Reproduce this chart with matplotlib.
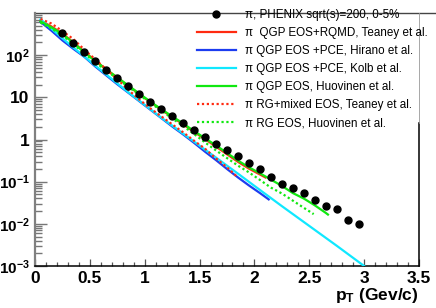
import numpy as np
import matplotlib
matplotlib.use("Agg")
import matplotlib.pyplot as plt
from matplotlib.ticker import FixedLocator, LogLocator, MultipleLocator, NullFormatter

plt.rcParams['font.family'] = ['Liberation Sans', 'DejaVu Sans']
plt.rcParams['mathtext.fontset'] = 'custom'
plt.rcParams['mathtext.bf'] = 'Liberation Sans:bold'
plt.rcParams['mathtext.rm'] = 'Liberation Sans'
plt.rcParams['mathtext.it'] = 'Liberation Sans:italic'

# ---------------- data ----------------
phenix_pt = [0.25, 0.35, 0.45, 0.55, 0.65, 0.75, 0.85, 0.95, 1.05, 1.15, 1.25, 1.35,
             1.45, 1.55, 1.65, 1.75, 1.85, 1.95, 2.05, 2.15, 2.25, 2.35, 2.45, 2.55,
             2.65, 2.75, 2.85, 2.95]
phenix_y = [331, 196, 117, 71.9, 44.1, 29.1, 18.2, 11.9, 7.89, 5.27, 3.54, 2.51,
            1.68, 1.13, 0.80, 0.555, 0.416, 0.274, 0.205, 0.132, 0.0885, 0.0702,
            0.0525, 0.0365, 0.0259, 0.0223, 0.0125, 0.0100]

teaney_qgp_pt = [0.05, 0.15, 0.25, 0.35, 0.45, 0.55, 0.65, 0.75, 0.85, 0.95, 1.05, 1.15,
                 1.25, 1.35, 1.45, 1.55, 1.65, 1.75, 1.85, 1.95, 2.05, 2.10]
teaney_qgp_y = [661, 479, 324, 200, 120, 74.1, 45.7, 29.5, 18.6, 12.0, 7.76, 5.13,
                3.39, 2.29, 1.51, 1.02, 0.676, 0.447, 0.295, 0.204, 0.148, 0.126]

hirano_pt = [0.05, 0.15, 0.25, 0.35, 0.45, 0.55, 0.65, 0.75, 0.85, 0.95, 1.05, 1.15,
             1.25, 1.35, 1.45, 1.55, 1.65, 1.75, 1.85, 1.95, 2.05, 2.13]
hirano_y = [617, 380, 224, 141, 91.2, 53.7, 33.1, 20.4, 12.9, 8.13, 5.13, 3.24,
            2.04, 1.32, 0.832, 0.513, 0.324, 0.200, 0.126, 0.0813, 0.0537, 0.0380]

kolb_pt = [0.05, 0.15, 0.25, 0.35, 0.45, 0.55, 0.65, 0.75, 0.85, 0.95, 1.05, 1.15,
           1.25, 1.35, 1.45, 1.55, 1.65, 1.75, 1.85, 2.0, 2.25, 2.5, 2.75, 3.0]
kolb_y = [708, 427, 251, 151, 93.3, 56.2, 34.7, 21.4, 13.2, 8.32, 5.25, 3.31,
          2.14, 1.38, 0.891, 0.575, 0.372, 0.240, 0.155, 0.0794, 0.0263, 0.00891,
          0.00302, 0.00100]

huov_qgp_pt = [0.05, 0.15, 0.25, 0.35, 0.45, 0.55, 0.65, 0.75, 0.85, 0.95, 1.05, 1.15,
               1.25, 1.35, 1.45, 1.55, 1.65, 1.75, 1.85, 1.95, 2.05, 2.15, 2.25, 2.35,
               2.45, 2.55, 2.65, 2.67]
huov_qgp_y = [631, 457, 316, 195, 117, 72.4, 45.7, 29.5, 19.1, 12.3, 7.94, 5.25,
              3.55, 2.40, 1.58, 1.07, 0.724, 0.479, 0.316, 0.219, 0.158, 0.112,
              0.0794, 0.0537, 0.0398, 0.0275, 0.0182, 0.0166]

teaney_rg_pt = [0.05, 0.15, 0.25, 0.35, 0.45, 0.55, 0.65, 0.75, 0.85, 0.95, 1.05, 1.15,
                1.25, 1.35, 1.45, 1.55, 1.65, 1.75, 1.84]
teaney_rg_y = [724, 562, 372, 240, 135, 79.4, 45.7, 26.9, 15.1, 8.91, 5.50, 3.55,
               2.29, 1.48, 0.933, 0.603, 0.355, 0.219, 0.132]

huov_rg_pt = [0.05, 0.15, 0.25, 0.35, 0.45, 0.55, 0.65, 0.75, 0.85, 0.95, 1.05, 1.15,
              1.25, 1.35, 1.45, 1.55, 1.65, 1.75, 1.85, 1.95, 2.05, 2.15, 2.25, 2.35,
              2.45, 2.54]
huov_rg_y = [589, 427, 295, 182, 110, 67.6, 42.7, 27.5, 17.8, 11.5, 7.41, 4.90,
             3.16, 2.09, 1.35, 0.851, 0.550, 0.363, 0.240, 0.166, 0.110, 0.0724,
             0.0525, 0.0355, 0.0240, 0.0170]

labels = ["\u03c0, PHENIX sqrt(s)=200, 0-5%",
          "\u03c0  QGP EOS+RQMD, Teaney et al.",
          "\u03c0 QGP EOS +PCE, Hirano et al.",
          "\u03c0 QGP EOS +PCE, Kolb et al.",
          "\u03c0 QGP EOS, Huovinen et al.",
          "\u03c0 RG+mixed EOS, Teaney et al.",
          "\u03c0 RG EOS, Huovinen et al."]

x_ticks = [0, 0.5, 1, 1.5, 2, 2.5, 3, 3.5]
x_tick_labels = ["0", "0.5", "1", "1.5", "2", "2.5", "3", "3.5"]
y_ticks = [1e-3, 1e-2, 1e-1, 1, 10, 100]
y_tick_labels = [r"$\mathbf{10^{-3}}$", r"$\mathbf{10^{-2}}$", r"$\mathbf{10^{-1}}$",
                 "1", "10", r"$\mathbf{10^{2}}$"]

# ---------------- figure ----------------
W, H = 436, 308
fig = plt.figure(figsize=(W / 100, H / 100), dpi=100)
ax = fig.add_axes([35 / W, 1 - 266 / H, (419 - 35) / W, (266 - 13) / H])

RED = '#ff2a10'
BLUE = '#1c3cf0'
CYAN = '#10e8ff'
GREEN = '#10e810'

h1, = ax.plot(teaney_qgp_pt, teaney_qgp_y, color=RED, lw=1.6, zorder=3)
h2, = ax.plot(hirano_pt, hirano_y, color=BLUE, lw=1.6, zorder=3)
h3, = ax.plot(kolb_pt, kolb_y, color=CYAN, lw=1.6, zorder=3)
h4, = ax.plot(huov_qgp_pt, huov_qgp_y, color=GREEN, lw=1.6, zorder=3)
h5, = ax.plot(teaney_rg_pt, teaney_rg_y, color=RED, lw=1.6, ls=(0, (1, 1.2)), zorder=3)
h6, = ax.plot(huov_rg_pt, huov_rg_y, color=GREEN, lw=1.6, ls=(0, (1, 1.2)), zorder=3)
h0, = ax.plot(phenix_pt, phenix_y, 'o', color='black', ms=5, zorder=5)

ax.set_yscale('log')
ax.set_xlim(0, 3.5)
ax.set_ylim(1e-3, 1e3)

ax.xaxis.set_major_locator(FixedLocator(x_ticks))
ax.set_xticklabels(x_tick_labels, fontsize=12.5, fontweight='bold')
ax.xaxis.set_minor_locator(MultipleLocator(0.1))
ax.yaxis.set_major_locator(FixedLocator(y_ticks))
ax.set_yticklabels(y_tick_labels, fontsize=11, fontweight='bold')
for t in ax.get_yticklabels():
    if not t.get_text().startswith('$'):
        t.set_fontsize(12.5)
ax.yaxis.set_minor_locator(LogLocator(base=10, subs=np.arange(2, 10)))
ax.yaxis.set_minor_formatter(NullFormatter())

ax.tick_params(axis='x', which='major', direction='in', length=5, width=0.9,
               color='#555555', pad=3.5)
ax.tick_params(axis='x', which='minor', direction='in', length=3, width=0.9,
               color='#555555')
ax.tick_params(axis='y', which='major', direction='in', length=8.5, width=1.0,
               color='#777777', pad=3.8)
ax.tick_params(axis='y', which='minor', direction='in', length=5, width=1.0,
               color='#777777')
ax.tick_params(top=False, right=False, which='both')

ax.spines['top'].set_visible(False)
ax.spines['right'].set_visible(False)
ax.spines['left'].set_color('#808080')
ax.spines['left'].set_linewidth(1.6)
ax.spines['bottom'].set_color('black')
ax.spines['bottom'].set_linewidth(1.1)

# partial frame lines (top left part and right side) like the reference
ax.plot([0, 1.395], [1, 1], transform=ax.transAxes, color='#444444', lw=1.0,
        clip_on=False, zorder=2)
yr = (266 - 123) / (266 - 13)
ax.plot([1, 1], [0, yr], transform=ax.transAxes, color='black', lw=1.1,
        clip_on=False, zorder=2)
ax.plot([1, 1], [yr, 1], transform=ax.transAxes, color='#999999', lw=0.6,
        clip_on=False, zorder=2)

leg = ax.legend([h0, h1, h2, h3, h4, h5, h6], labels, loc='upper left',
                bbox_to_anchor=(197 / W, 1 - 9 / H), bbox_transform=fig.transFigure,
                frameon=False, fontsize=8.4, handlelength=3.3, handletextpad=0.8,
                labelspacing=0.52, borderpad=0, borderaxespad=0, numpoints=1)

fig.text(419 / W, 1 - 300 / H, r"$\mathbf{p_{T}}$ (Gev/c)", ha='right', va='baseline',
         fontsize=12.5, fontweight='bold')

fig.savefig('out.png', dpi=100)
